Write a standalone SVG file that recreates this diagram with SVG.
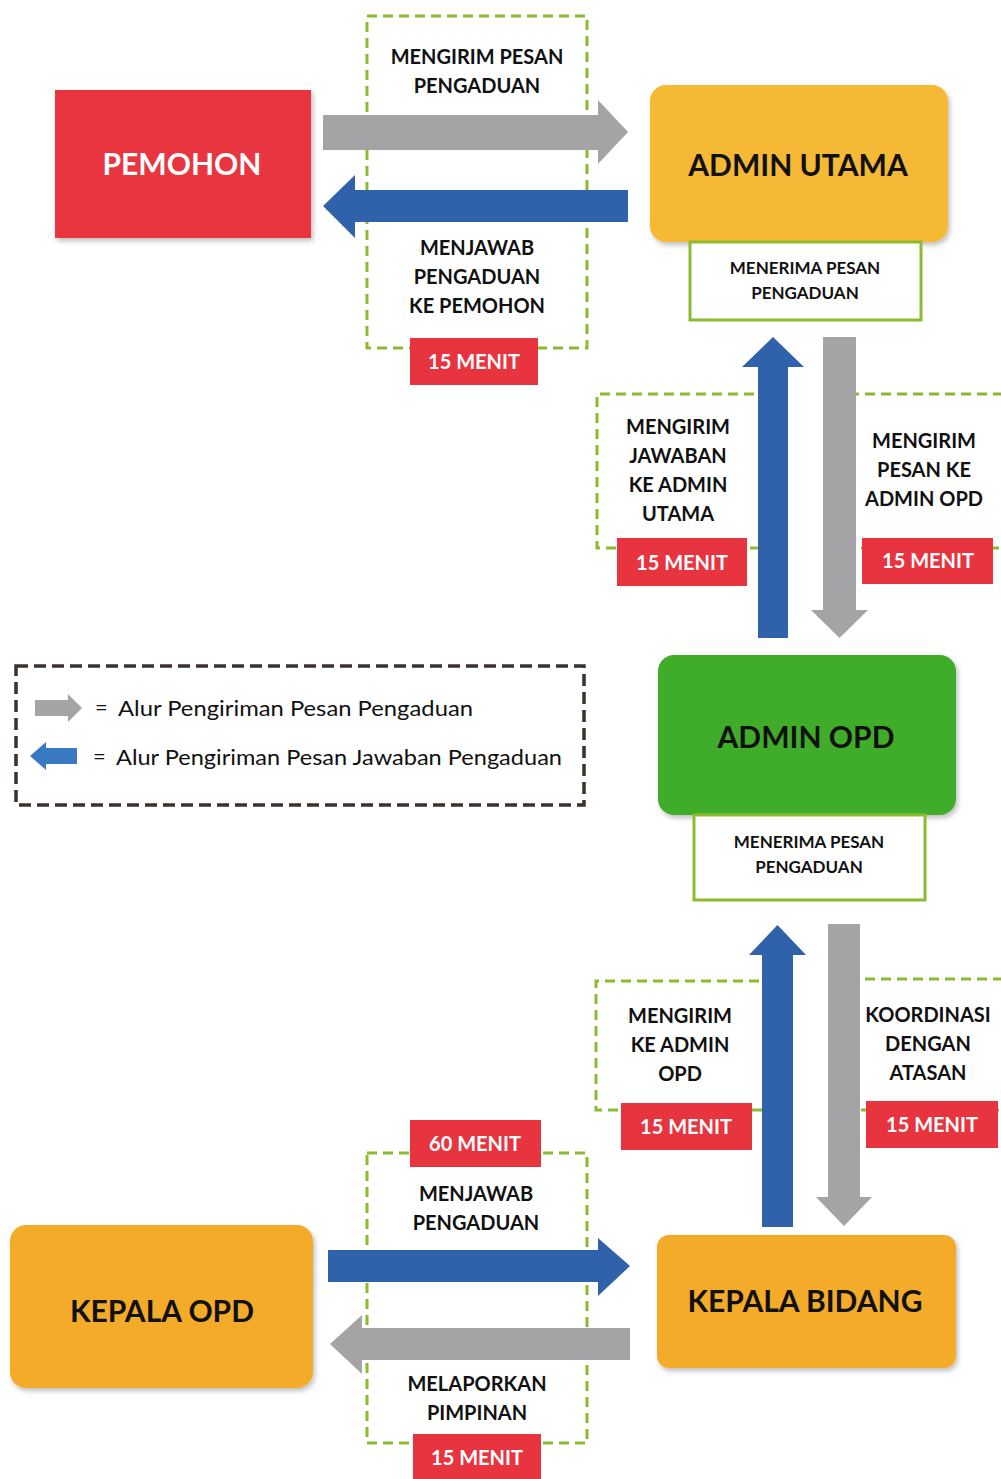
<svg xmlns="http://www.w3.org/2000/svg" width="1001" height="1479" viewBox="0 0 1001 1479">
<defs>
<filter id="sh" x="-10%" y="-10%" width="125%" height="125%">
<feDropShadow dx="2" dy="3" stdDeviation="2.5" flood-color="#000" flood-opacity="0.25"/>
</filter>
</defs>
<style>
.node{filter:url(#sh)}
.lbl{font-family:Lato,"Liberation Sans",sans-serif;font-weight:bold;fill:#111;text-anchor:middle}
.big{font-size:30px}
.mid{font-size:20px}
.sm{font-size:17px}
.badge rect{fill:#e8343f}
.badge text{font-family:Lato,"Liberation Sans",sans-serif;font-weight:bold;fill:#fff;font-size:20px;text-anchor:middle}
.dash{fill:none;stroke:#8cbb2f;stroke-width:3;stroke-dasharray:10 6}
.recv{fill:#fff;stroke:#8cbb2f;stroke-width:3}
.gray{fill:#a4a4a6}
.blue{fill:#2f62ab}
.leg{font-family:Lato,"Liberation Sans",sans-serif;font-size:22px;fill:#111}
</style>
<rect width="1001" height="1479" fill="#fff"/>

<!-- dashed label frames -->
<g id="frames">
<rect class="dash" x="367" y="16" width="220" height="332"/>
<path class="dash" d="M770,394 H597 V548 H770"/>
<path class="dash" d="M1003,394 H845 M845,548 H1003"/>
<path class="dash" d="M775,981 H596 V1110 H775"/>
<path class="dash" d="M1003,979 H845 M845,1110 H1003"/>
<rect class="dash" x="367" y="1153" width="220" height="290"/>
</g>

<!-- connectors -->
<g id="connectors">
<polygon class="gray" points="323,115 598,115 598,100 628,132 598,164 598,150 323,150"/>
<polygon class="blue" points="628,190 355,190 355,175 323,206 355,238 355,222 628,222"/>
<polygon class="blue" points="758,638 758,367 742,367 773,337 804,367 788,367 788,638"/>
<polygon class="gray" points="823,337 856,337 856,610 868,610 839.5,638 811,610 823,610"/>
<polygon class="blue" points="762,1227 762,955 749,955 777.5,925 806,955 793,955 793,1227"/>
<polygon class="gray" points="828,924 860,924 860,1197 872,1197 844,1226 816,1197 828,1197"/>
<polygon class="blue" points="328,1250 598,1250 598,1238 630,1266 598,1296 598,1282 328,1282"/>
<polygon class="gray" points="630,1328 362,1328 362,1315 330,1344 362,1374 362,1360 630,1360"/>
</g>

<!-- edge labels -->
<g id="edge-labels">
<text class="lbl mid" x="477" y="64">MENGIRIM PESAN</text>
<text class="lbl mid" x="477" y="93">PENGADUAN</text>
<text class="lbl mid" x="477" y="255">MENJAWAB</text>
<text class="lbl mid" x="477" y="284">PENGADUAN</text>
<text class="lbl mid" x="477" y="313">KE PEMOHON</text>
<g class="badge"><rect x="410" y="338" width="128" height="47"/><text x="474" y="369">15 MENIT</text></g>

<text class="lbl mid" x="678" y="434">MENGIRIM</text>
<text class="lbl mid" x="678" y="463">JAWABAN</text>
<text class="lbl mid" x="678" y="492">KE ADMIN</text>
<text class="lbl mid" x="678" y="521">UTAMA</text>
<g class="badge"><rect x="617" y="538" width="130" height="48"/><text x="682" y="570">15 MENIT</text></g>

<text class="lbl mid" x="924" y="448">MENGIRIM</text>
<text class="lbl mid" x="924" y="477">PESAN KE</text>
<text class="lbl mid" x="924" y="506">ADMIN OPD</text>
<g class="badge"><rect x="862" y="538" width="131" height="46"/><text x="928" y="568">15 MENIT</text></g>

<text class="lbl mid" x="680" y="1023">MENGIRIM</text>
<text class="lbl mid" x="680" y="1052">KE ADMIN</text>
<text class="lbl mid" x="680" y="1081">OPD</text>
<g class="badge"><rect x="621" y="1103" width="131" height="47"/><text x="686" y="1134">15 MENIT</text></g>

<text class="lbl mid" x="928" y="1022">KOORDINASI</text>
<text class="lbl mid" x="928" y="1051">DENGAN</text>
<text class="lbl mid" x="928" y="1080">ATASAN</text>
<g class="badge"><rect x="866" y="1101" width="132" height="47"/><text x="932" y="1132">15 MENIT</text></g>

<g class="badge"><rect x="410" y="1120" width="131" height="47"/><text x="475" y="1151">60 MENIT</text></g>
<text class="lbl mid" x="476" y="1201">MENJAWAB</text>
<text class="lbl mid" x="476" y="1230">PENGADUAN</text>
<text class="lbl mid" x="477" y="1391">MELAPORKAN</text>
<text class="lbl mid" x="477" y="1420">PIMPINAN</text>
<g class="badge"><rect x="413" y="1434" width="128" height="45"/><text x="477" y="1465">15 MENIT</text></g>
</g>

<!-- nodes -->
<g id="pemohon">
<rect class="node" x="55" y="90" width="256" height="148" fill="#e8343f"/>
<text class="lbl big" x="182" y="175" style="fill:#fff">PEMOHON</text>
</g>
<g id="admin-utama">
<rect class="node" x="650" y="85" width="298" height="157" rx="16" fill="#f6b934"/>
<text class="lbl big" x="798" y="176">ADMIN UTAMA</text>
<rect class="recv" x="690" y="242" width="231" height="78"/>
<text class="lbl sm" x="805" y="274">MENERIMA PESAN</text>
<text class="lbl sm" x="805" y="299">PENGADUAN</text>
</g>
<g id="admin-opd">
<rect class="node" x="658" y="655" width="298" height="160" rx="16" fill="#40ad2c"/>
<text class="lbl big" x="806" y="748">ADMIN OPD</text>
<rect class="recv" x="694" y="815" width="231" height="85"/>
<text class="lbl sm" x="809" y="848">MENERIMA PESAN</text>
<text class="lbl sm" x="809" y="873">PENGADUAN</text>
</g>
<g id="kepala-opd">
<rect class="node" x="10" y="1225" width="303" height="163" rx="16" fill="#f5ab2c"/>
<text class="lbl big" x="162" y="1322">KEPALA OPD</text>
</g>
<g id="kepala-bidang">
<rect class="node" x="657" y="1235" width="299" height="133" rx="12" fill="#f5ab2c"/>
<text class="lbl big" x="805" y="1312">KEPALA BIDANG</text>
</g>

<!-- legend -->
<g id="legend">
<rect x="16" y="666" width="568" height="139" fill="none" stroke="#3a302c" stroke-width="3.5" stroke-dasharray="12 6"/>
<polygon class="gray" points="35,700 68,700 68,694 82,708 68,722 68,716 35,716"/>
<text class="leg" x="95" y="715">=</text>
<text class="leg" x="118" y="716" textLength="355" lengthAdjust="spacingAndGlyphs">Alur Pengiriman Pesan Pengaduan</text>
<polygon class="blue" points="77,748 46,748 46,742 30,756 46,770 46,764 77,764" style="fill:#3a78c2"/>
<text class="leg" x="93" y="764">=</text>
<text class="leg" x="116" y="765" textLength="446" lengthAdjust="spacingAndGlyphs">Alur Pengiriman Pesan Jawaban Pengaduan</text>
</g>
</svg>
